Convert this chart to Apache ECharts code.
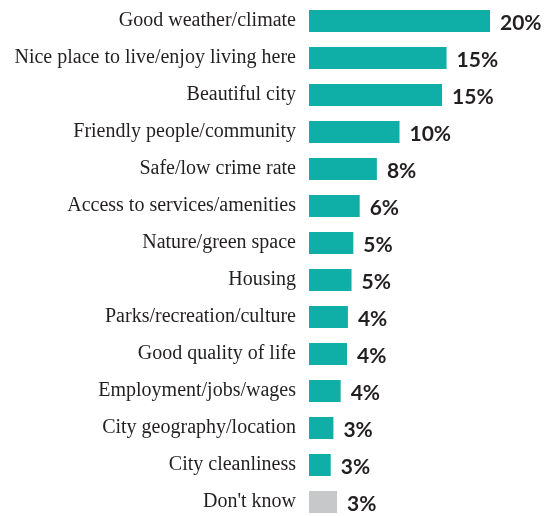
<!DOCTYPE html>
<html><head><meta charset="utf-8">
<script src="https://cdn.jsdelivr.net/npm/echarts@6/dist/echarts.min.js"></script>
<style>html,body{margin:0;padding:0;background:#fff}#c{width:545px;height:516px}</style>
</head><body><div id="c"></div>
<script>
var categories = ["Good weather/climate","Nice place to live/enjoy living here","Beautiful city","Friendly people/community","Safe/low crime rate","Access to services/amenities","Nature/green space","Housing","Parks/recreation/culture","Good quality of life","Employment/jobs/wages","City geography/location","City cleanliness","Don't know"];
var values = [20.0,15.2,14.7,10.0,7.5,5.6,4.9,4.7,4.3,4.2,3.5,2.7,2.4,3.1];
var valueLabels = ["20%","15%","15%","10%","8%","6%","5%","5%","4%","4%","4%","3%","3%","3%"];
var chart = echarts.init(document.getElementById('c'));
chart.setOption({
  animation:false,
  grid:{left:309,top:2.5,height:518,width:181,outerBoundsMode:'none',containLabel:false},
  xAxis:{type:'value',min:0,max:20,show:false},
  yAxis:{type:'category',data:categories,inverse:true,
    axisLine:{show:false},axisTick:{show:false},
    axisLabel:{margin:13,fontFamily:'Liberation Serif',fontSize:20,color:'#231f20'}},
  series:[{type:'bar',barWidth:22,
    data:values.map(function(v,i){return {value:v,itemStyle:{color:i===values.length-1?'#c7c8ca':'#0fafa7'}};}),
    label:{show:true,position:'right',distance:10,fontFamily:'Lato',fontWeight:'bold',fontSize:21,color:'#231f20',
      offset:[0,2],
      formatter:function(p){return valueLabels[p.dataIndex];}}}]
});
</script></body></html>
